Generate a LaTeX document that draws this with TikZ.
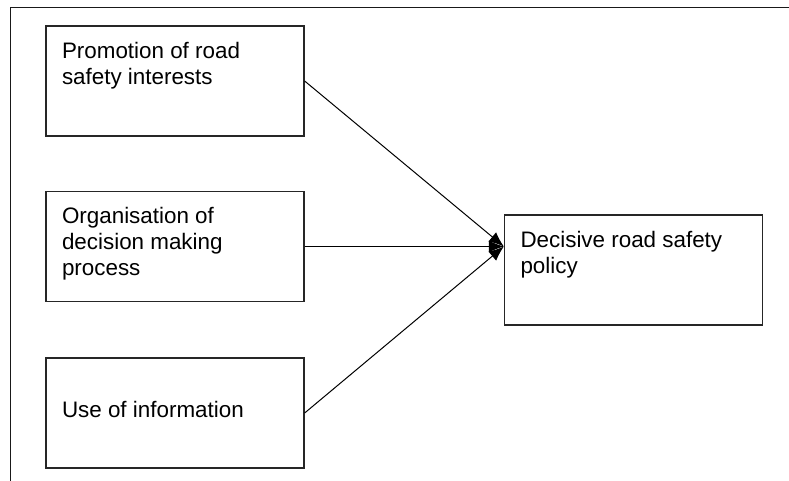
\documentclass[tikz,border=0pt]{standalone}
\usepackage{fontspec}
\setmainfont{Liberation Sans}
\usepackage{tikz}
\usetikzlibrary{arrows.meta,positioning,calc}

% 方框内文字
\newcommand{\boxtext}[1]{\parbox[c][78pt][t]{226pt}{\raggedright #1}}

\begin{document}
\begin{tikzpicture}[
    x=1pt, y=-1pt,
    % 方框样式定义
    box style/.style={
        rectangle,            % 矩形节点
        draw=black!85,        % 绘制边框
        line width=1.3pt,     % 边框线宽
        inner sep=16pt,       % 内部填充
        font=\fontsize{22.4}{25.8}\selectfont
    },
    % 箭头样式定义
    arrow style/.style={
        draw=black,
        line width=1pt,
        -{Latex[length=15pt, width=12pt]}
    },
    % 外框线样式
    frame style/.style={
        draw=black!90,
        line width=1pt
    }
]
\useasboundingbox (0,0) rectangle (789,481);

% 外框
\coordinate (tl) at (10,8);
\coordinate (tr) at (789,8);
\coordinate (bl) at (10,481);
\draw[frame style] (bl) -- (tl) -- (tr);

% 左边三个方框
\node[box style] (prom) at (175,81) {\boxtext{Promotion of road safety interests}};
\node[box style] (org) at (175,246.5) {\boxtext{Organisation of decision making process}};
\node[box style] (info) at (175,413) {\boxtext{\strut\\Use of information}};

% 右边方框
\node[box style] (policy) at (633.5,270) {\boxtext{Decisive road safety policy}};

% 箭头
\coordinate (tip) at (policy.west |- org.east);
\draw[arrow style] (prom.east) -- (tip);
\draw[arrow style] (org.east) -- (tip);
\draw[arrow style] (info.east) -- (tip);

\end{tikzpicture}
\end{document}
